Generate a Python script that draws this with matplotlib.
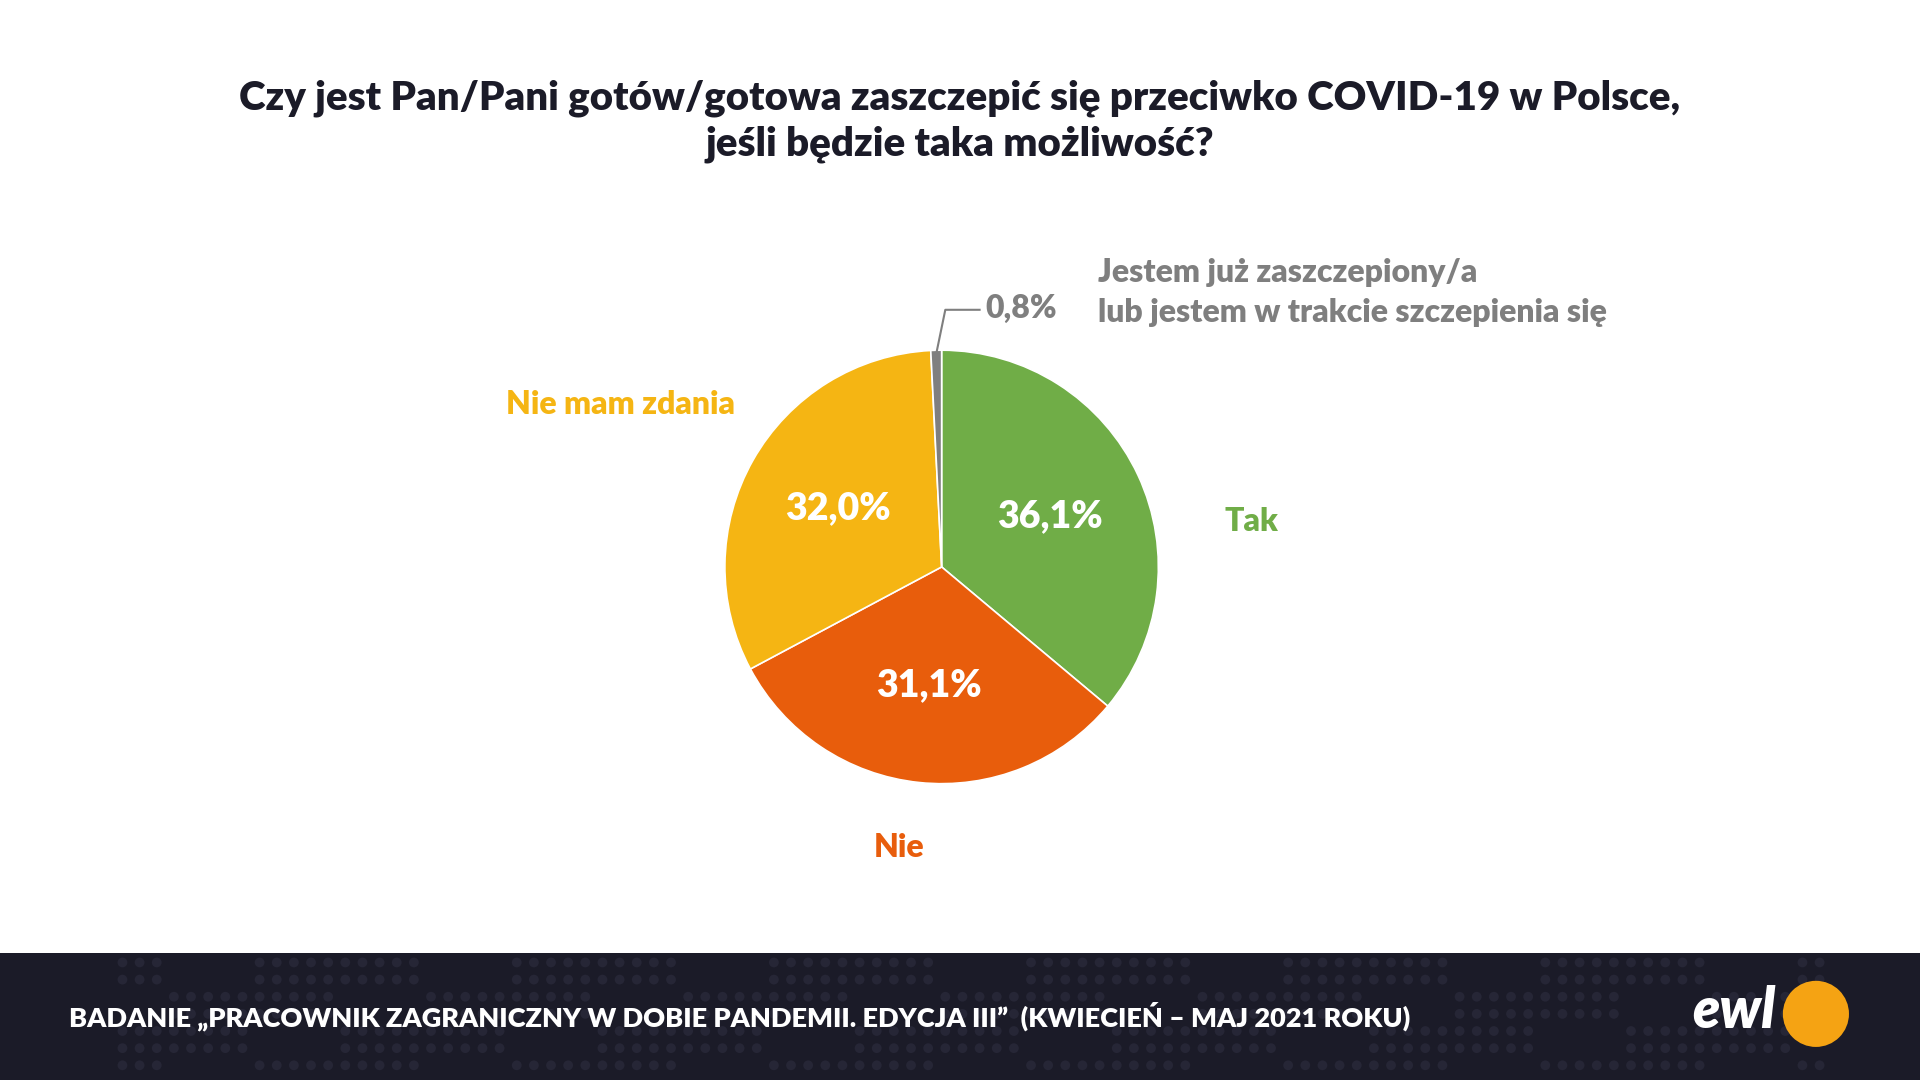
import matplotlib.pyplot as plt
from matplotlib.lines import Line2D
from matplotlib.patches import Rectangle, Ellipse

plt.rcParams["font.family"] = "Lato"

labels = ["Tak", "Nie", "Nie mam zdania", "Jestem już zaszczepiony/a\nlub jestem w trakcie szczepienia się"]
values = [36.1, 31.1, 32.0, 0.8]
colors = ["#70AD47", "#E85D0C", "#F5B513", "#7F7F7F"]

W, H = 1568, 882  # reference pixel grid used for placement


def fx(x):
    return x / W


def fy(y):
    return 1 - y / H


def dot(x, y, rad, color):
    fig.add_artist(Ellipse((fx(x), fy(y)), 2 * rad / W, 2 * rad / H, transform=fig.transFigure,
                           facecolor=color, edgecolor="none"))


fig = plt.figure(figsize=(19.2, 10.8), dpi=100)
fig.patch.set_facecolor("white")

fig.text(0.5, fy(80), "Czy jest Pan/Pani gotów/gotowa zaszczepić się przeciwko COVID-19 w Polsce,",
         ha="center", va="center", fontsize=29, fontweight="heavy", color="#1B1B28")
fig.text(0.5, fy(118), "jeśli będzie taka możliwość?",
         ha="center", va="center", fontsize=29, fontweight="heavy", color="#1B1B28")

cx, cy, r = fx(769), fy(463), 177 / H
aw = r * 2 * H / W
ax = fig.add_axes([cx - aw / 2, cy - r, aw, 2 * r])
wedges, _, autotexts = ax.pie(values, colors=colors, startangle=90, counterclock=False,
                              autopct=lambda p: "", pctdistance=0.55,
                              wedgeprops=dict(linewidth=1.2, edgecolor="white"))
for i, t in enumerate(autotexts):
    if values[i] > 5:
        t.set_text(f"{values[i]:.1f}%".replace(".", ","))
        t.set_color("white")
        t.set_fontsize(27)
        t.set_fontweight("heavy")
ax.set_xlim(-1, 1)
ax.set_ylim(-1, 1)
ax.set_aspect("equal")

kw = dict(va="center", fontsize=23, fontweight="heavy")
fig.text(fx(1000), fy(426), labels[0], ha="left", color=colors[0], **kw)
fig.text(fx(734), fy(692), labels[1], ha="center", color=colors[1], **kw)
fig.text(fx(600), fy(330), labels[2], ha="right", color=colors[2], **kw)
fig.text(fx(805), fy(252), f"{values[3]:.1f}%".replace(".", ","), ha="left", color=colors[3], **kw)
fig.text(fx(897), fy(239), labels[3], ha="left", color=colors[3], linespacing=1.45, **kw)
fig.add_artist(Line2D([fx(765), fx(772), fx(800)], [fy(287), fy(253), fy(253)],
                      color=colors[3], lw=1.5, transform=fig.transFigure))

# footer band
fig.add_artist(Rectangle((0, 0), 1, fy(778), transform=fig.transFigure,
                         facecolor="#1B1B28", edgecolor="none"))
for gx in range(100, 1500, 14):
    for gy in range(786, 880, 14):
        if (gx // 70 + gy // 28) % 3 != 0:
            dot(gx, gy, 4, "#262636")
fig.text(fx(56), fy(830), "BADANIE „PRACOWNIK ZAGRANICZNY W DOBIE PANDEMII. EDYCJA III”  (KWIECIEŃ – MAJ 2021 ROKU)",
         ha="left", va="center", fontsize=19.5, fontweight="heavy", color="white")
dot(1483, 828, 27, "#F5A313")
fig.text(fx(1450), fy(826), "ewl", ha="right", va="center", fontsize=40, fontweight="heavy",
         fontstyle="italic", color="white")

fig.savefig("out.png", dpi=100)
